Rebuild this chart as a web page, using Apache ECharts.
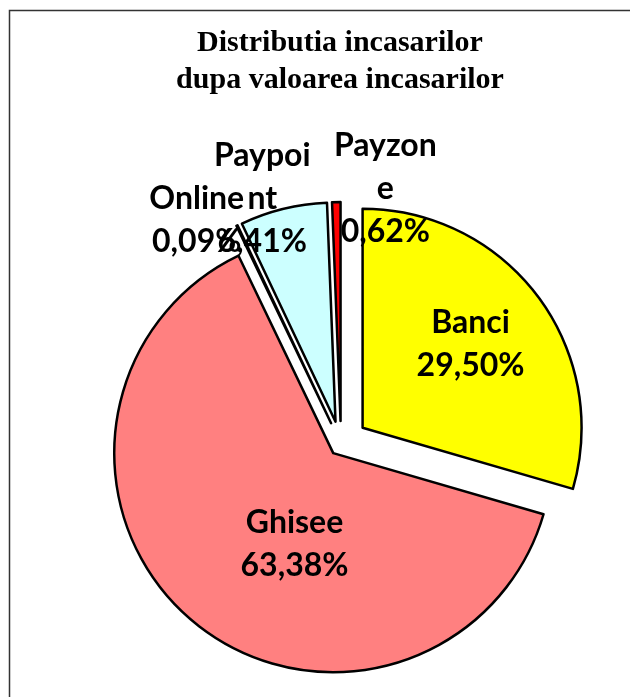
<!DOCTYPE html>
<html>
<head>
<meta charset="utf-8">
<title>Distributia incasarilor</title>
<script src="https://cdn.jsdelivr.net/npm/echarts@6/dist/echarts.min.js"></script>
<style>
  html, body { margin: 0; padding: 0; background: #fff; }
  #main { width: 630px; height: 697px; }
</style>
</head>
<body>
<div id="main"></div>
<script>
  // procente din valoarea totala a incasarilor
  const names = ['Banci', 'Ghisee', 'Online', 'Paypoint', 'Payzone'];
  const values = [29.50, 63.38, 0.09, 6.41, 0.62];

  // stil
  const colors = ['#FFFF00', '#FF8080', '#FFFFFF', '#CCFFFF', '#FF0000'];
  const explode = [27, 12, 23, 23, 23];            // px scoase din centru
  const labelShift = [[18, -16], [34, 5], [-86, -101], [-46.5, -114], [47, -120]];

  const myChart = echarts.init(document.getElementById('main'));

  // Excel rupe numele lungi dupa 6 litere
  function labelText(p) {
    const n = p.name.length > 6 ? p.name.slice(0, 6) + '\n' + p.name.slice(6) : p.name;
    return n + '\n' + p.value.toFixed(2).replace('.', ',') + '%';
  }

  // o serie pentru fiecare distanta de explodare (selectedOffset e pe serie)
  const groups = explode.filter(function (v, i) { return explode.indexOf(v) === i; });
  const series = groups.map(function (off) {
    return {
      type: 'pie',
      center: [341, 444],
      radius: 219,
      startAngle: 90,
      clockwise: true,
      selectedMode: 'multiple',
      selectedOffset: off,
      avoidLabelOverlap: false,
      animation: false,
      emphasis: { disabled: true },
      labelLine: { show: false },
      label: {
        position: 'inside',
        fontFamily: 'Lato',
        fontWeight: 'bold',
        fontSize: 32,
        lineHeight: 43,
        color: '#000',
        formatter: labelText
      },
      labelLayout: function (p) {
        return { dx: labelShift[p.dataIndex][0], dy: labelShift[p.dataIndex][1] };
      },
      data: names.map(function (n, i) {
        const mine = explode[i] === off;
        return {
          name: n,
          value: values[i],
          selected: mine,
          itemStyle: mine
            ? { color: colors[i], borderColor: '#000', borderWidth: 2.5 }
            : { color: 'rgba(0,0,0,0)', borderWidth: 0 },
          label: { show: mine }
        };
      })
    };
  });

  const option = {
    backgroundColor: '#fff',
    title: {
      text: 'Distributia incasarilor\ndupa valoarea incasarilor',
      left: 340,
      top: 25,
      textAlign: 'center',
      padding: 0,
      textStyle: {
        fontFamily: 'Liberation Serif',
        fontWeight: 'bold',
        fontSize: 30,
        lineHeight: 37,
        color: '#000'
      }
    },
    graphic: [
      {
        type: 'rect',
        silent: true,
        z: -1,
        shape: { x: 9.5, y: 10.5, width: 700, height: 800 },
        style: { fill: 'none', stroke: '#333', lineWidth: 1.5 }
      }
    ],
    series: series
  };

  myChart.setOption(option);
</script>
</body>
</html>
